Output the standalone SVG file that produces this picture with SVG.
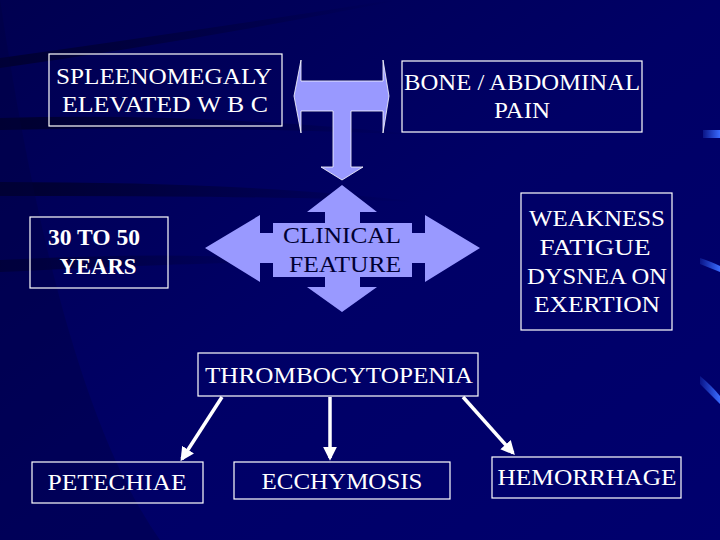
<svg xmlns="http://www.w3.org/2000/svg" width="720" height="540" viewBox="0 0 720 540">
<defs>
<linearGradient id="bg" x1="0" y1="0" x2="1" y2="1">
<stop offset="0" stop-color="#000050"/>
<stop offset="0.5" stop-color="#000066"/>
<stop offset="1" stop-color="#00006e"/>
</linearGradient>
<linearGradient id="streak" x1="0" y1="0" x2="1" y2="0">
<stop offset="0" stop-color="#000020" stop-opacity="0.9"/>
<stop offset="1" stop-color="#000020" stop-opacity="0"/>
</linearGradient>
<linearGradient id="blue" x1="0" y1="0" x2="1" y2="0">
<stop offset="0" stop-color="#3366ff" stop-opacity="0.2"/>
<stop offset="1" stop-color="#3a6cff"/>
</linearGradient>
<marker id="ah" viewBox="0 0 10 10" refX="8" refY="5" markerWidth="4" markerHeight="4" orient="auto" markerUnits="strokeWidth">
<path d="M0,0 L10,5 L0,10 z" fill="#ffffff"/>
</marker>
<style>
.box{fill:none;stroke:#ffffff;stroke-width:1.2}
.t{font-family:"Liberation Serif",serif;font-size:23px;fill:#ffffff;text-anchor:middle}
.dk{fill:#000033}
.b{font-weight:bold}
.arrow{fill:#9999ff}
.conn{stroke:#ffffff;stroke-width:3.5;fill:none;marker-end:url(#ah)}
</style>
</defs>
<rect width="720" height="540" fill="url(#bg)"/>
<g id="background-streaks">
<path d="M0,58 Q200,30 380,2 L400,0 Q200,40 0,68 z" fill="url(#streak)" opacity="0.7"/>
<path d="M0,118 Q200,112 420,135 Q200,125 0,130 z" fill="url(#streak)" opacity="0.8"/>
<path d="M0,182 Q250,182 420,202 Q250,195 0,196 z" fill="url(#streak)" opacity="0.8"/>
<path d="M0,260 Q200,250 300,262 Q200,262 0,272 z" fill="url(#streak)" opacity="0.6"/>
<path d="M0,0 L0,540 L160,540 Q60,400 0,0 z" fill="#000040" opacity="0.35"/>
<path d="M703,130 L720,130 L720,138 L703,138 z" fill="url(#blue)"/>
<path d="M700,258 Q712,262 720,266 L720,272 Q710,268 700,264 z" fill="url(#blue)"/>
<path d="M700,376 Q712,386 720,396 L720,404 Q710,394 700,384 z" fill="url(#blue)"/>
</g>
<g id="t-arrow">
<path class="arrow" d="M294,96 L301,60 L301,81 L383,81 L383,60 L389,96 L383,133 L383,111 L351,111 L351,167 L363,167 L342,180 L321,167 L333,167 L333,111 L301,111 L301,133 z" stroke="#ffffff" stroke-width="0.8"/>
</g>
<g id="clinical-feature">
<path class="arrow" d="M342,185 L377,212 L360,212 L360,223 L412,223 L412,233 L425,233 L425,215 L480,248 L425,282 L425,263 L412,263 L412,277 L360,277 L360,287 L377,287 L342,312 L307,287 L325,287 L325,277 L273,277 L273,263 L260,263 L260,282 L205,248 L260,215 L260,233 L273,233 L273,223 L325,223 L325,212 L307,212 z"/>
<text class="t dk" x="342" y="243" textLength="118" lengthAdjust="spacingAndGlyphs">CLINICAL</text>
<text class="t dk" x="345" y="272" textLength="112" lengthAdjust="spacingAndGlyphs">FEATURE</text>
</g>
<g id="spleenomegaly">
<rect class="box" x="49" y="54" width="233" height="72"/>
<text class="t" x="164" y="84" textLength="216" lengthAdjust="spacingAndGlyphs">SPLEENOMEGALY</text>
<text class="t" x="165" y="112" textLength="206" lengthAdjust="spacingAndGlyphs">ELEVATED W B C</text>
</g>
<g id="bone-pain">
<rect class="box" x="402" y="61" width="240" height="71"/>
<text class="t" x="522" y="90" textLength="236" lengthAdjust="spacingAndGlyphs">BONE / ABDOMINAL</text>
<text class="t" x="522" y="118" textLength="56" lengthAdjust="spacingAndGlyphs">PAIN</text>
</g>
<g id="age">
<rect class="box" x="30" y="217" width="138" height="71"/>
<text class="t b" x="94" y="245" textLength="92" lengthAdjust="spacingAndGlyphs">30 TO 50</text>
<text class="t b" x="98" y="274" textLength="77" lengthAdjust="spacingAndGlyphs">YEARS</text>
</g>
<g id="weakness">
<rect class="box" x="521" y="193" width="151" height="137"/>
<text class="t" x="597" y="226" textLength="136" lengthAdjust="spacingAndGlyphs">WEAKNESS</text>
<text class="t" x="595" y="255" textLength="111" lengthAdjust="spacingAndGlyphs">FATIGUE</text>
<text class="t" x="597" y="284" textLength="140" lengthAdjust="spacingAndGlyphs">DYSNEA ON</text>
<text class="t" x="597" y="312" textLength="126" lengthAdjust="spacingAndGlyphs">EXERTION</text>
</g>
<g id="thrombocytopenia">
<rect class="box" x="198" y="353" width="280" height="43"/>
<text class="t" x="339" y="383" textLength="268" lengthAdjust="spacingAndGlyphs">THROMBOCYTOPENIA</text>
</g>
<g id="petechiae">
<rect class="box" x="32" y="462" width="171" height="41"/>
<text class="t" x="117" y="490" textLength="139" lengthAdjust="spacingAndGlyphs">PETECHIAE</text>
</g>
<g id="ecchymosis">
<rect class="box" x="234" y="462" width="216" height="37"/>
<text class="t" x="342" y="489" textLength="161" lengthAdjust="spacingAndGlyphs">ECCHYMOSIS</text>
</g>
<g id="hemorrhage">
<rect class="box" x="492" y="457" width="189" height="41"/>
<text class="t" x="587" y="485" textLength="179" lengthAdjust="spacingAndGlyphs">HEMORRHAGE</text>
</g>
<g id="connectors">
<line class="conn" x1="222" y1="397" x2="182" y2="459"/>
<line class="conn" x1="330" y1="397" x2="330" y2="458"/>
<line class="conn" x1="463" y1="397" x2="513" y2="453"/>
</g>
</svg>
